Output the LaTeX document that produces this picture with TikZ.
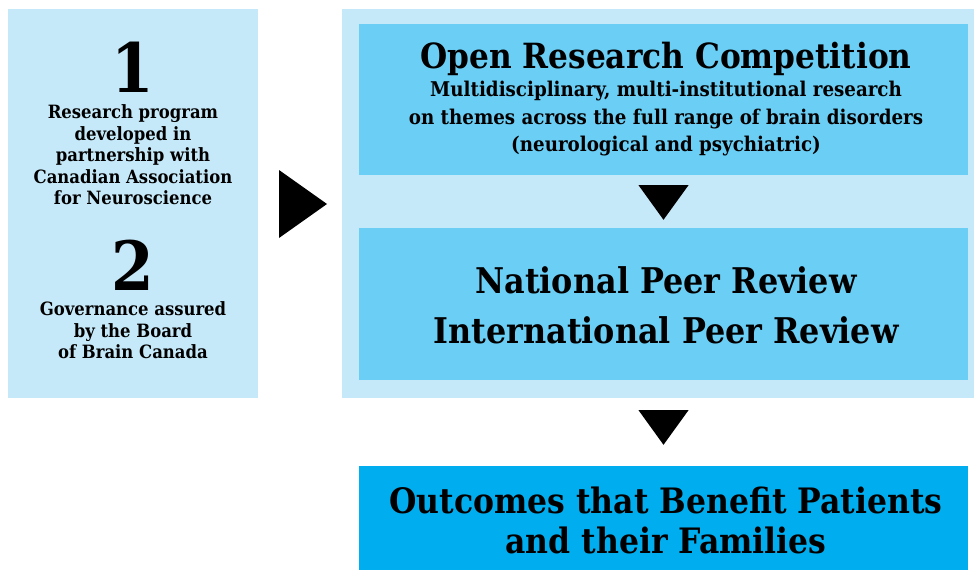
\documentclass[tikz,border=0pt]{standalone}
\usepackage{fontspec}
\setmainfont{DejaVu Serif Condensed}
\usetikzlibrary{calc}
\definecolor{paleblue}{HTML}{C6E9F9}
\definecolor{midblue}{HTML}{6BCEF5}
\definecolor{deepblue}{HTML}{00AEEF}
\tikzset{
  panel/.style={fill=paleblue, draw=none},
  stagebox/.style={fill=midblue, draw=none},
  outbox/.style={fill=deepblue, draw=none},
  bignum/.style={font=\bfseries\fontsize{68}{68}\selectfont, inner sep=0pt, text height=50pt, text depth=0pt},
  sidetext/.style={align=center, font=\bfseries\fontsize{18.3}{21.5}\selectfont, inner sep=0pt},
  headtext/.style={align=center, font=\bfseries\fontsize{34.7}{35}\selectfont, inner sep=0pt},
  subtext/.style={align=center, font=\bfseries\fontsize{20.3}{27.5}\selectfont, inner sep=0pt},
  reviewtext/.style={align=center, font=\bfseries\fontsize{35.4}{50}\selectfont, inner sep=0pt},
  outtext/.style={align=center, font=\bfseries\fontsize{35}{40}\selectfont, inner sep=0pt},
  pointer/.style={fill=black, draw=none}
}
\begin{document}
\begin{tikzpicture}[x=1pt, y=-1pt]
\useasboundingbox (0,0) rectangle (974,570);
% background panels
\path[panel] (8,9) rectangle (258,398);
\path[panel] (342,9) rectangle (974,398);
\coordinate (leftpanel-e) at (258,204);
\coordinate (rightpanel-w) at (342,204);
% stage boxes
\node[stagebox, minimum width=609pt, minimum height=151pt, inner sep=0pt] (compbox) at (663.5,99.5) {};
\node[stagebox, minimum width=609pt, minimum height=152pt, inner sep=0pt] (reviewbox) at (663.5,304) {};
\node[outbox, minimum width=609pt, minimum height=104pt, inner sep=0pt] (outcomebox) at (663.5,518) {};
% left panel text
\node[bignum] (one) at (133,67.5) {1};
\node[sidetext] (onetext) at (133,155) {Research program\\developed in\\partnership with\\Canadian Association\\for Neuroscience};
\node[bignum] (two) at (133,265) {2};
\node[sidetext] (twotext) at (133,330.5) {Governance assured\\by the Board\\of Brain Canada};
% stage text
\node[headtext] (comphead) at (666,59) {Open Research Competition};
\node[subtext] (compsub) at (666,119) {Multidisciplinary, multi-institutional research\\on themes across the full range of brain disorders\\(neurological and psychiatric)};
\node[reviewtext] (reviewlabel) at (666,305) {National Peer Review\\International Peer Review};
\node[outtext] (outlabel) at (666,520) {Outcomes that Benefit Patients\\and their Families};
% pointers between stages
\fill[pointer] ($(leftpanel-e)+(21,-34)$) -- ($(rightpanel-w)+(-15,0)$) -- ($(leftpanel-e)+(21,34)$) -- cycle;
\fill[pointer] ($(compbox.south)+(-25,10)$) -- ($(compbox.south)+(25,10)$) -- ($(reviewbox.north)+(0,-8)$) -- cycle;
\fill[pointer] ($(reviewbox.south)+(-25,30)$) -- ($(reviewbox.south)+(25,30)$) -- ($(outcomebox.north)+(0,-21)$) -- cycle;
\end{tikzpicture}
\end{document}
